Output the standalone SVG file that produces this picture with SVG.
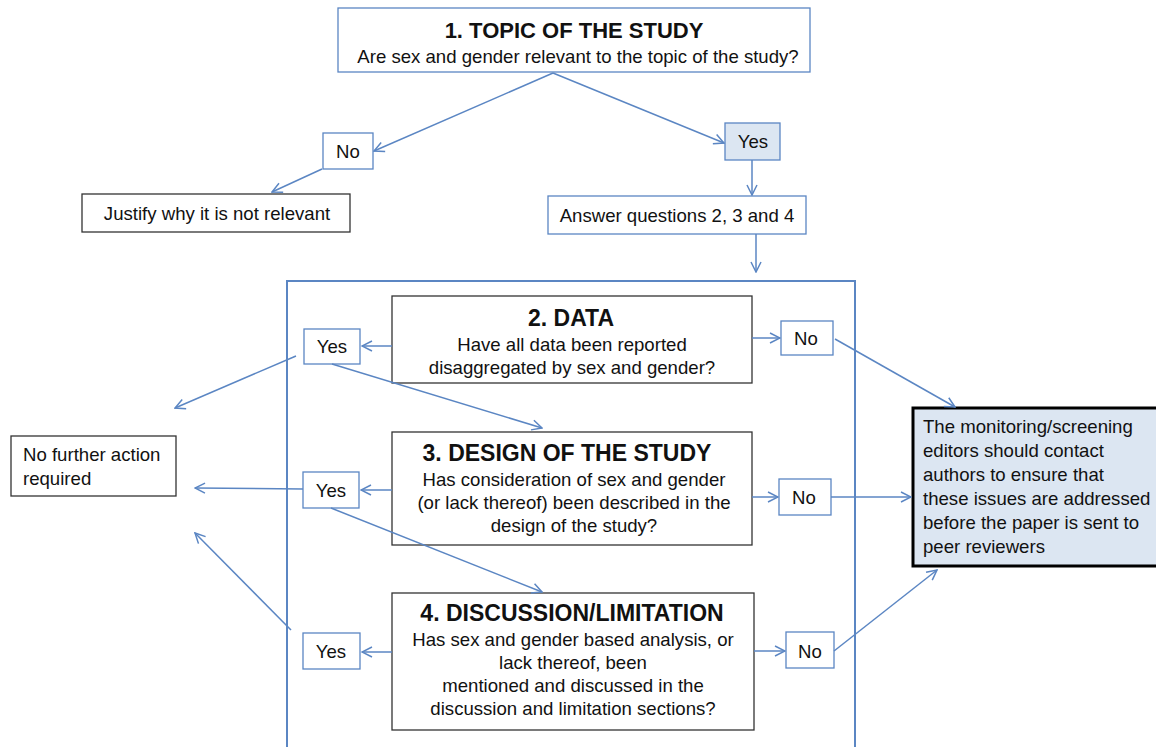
<svg xmlns="http://www.w3.org/2000/svg" width="1156" height="747" viewBox="0 0 1156 747">
<style>
text{font-family:"Liberation Sans",Arial,sans-serif;fill:#111;}
.t{font-size:18.6px;}
.c{text-anchor:middle;}
.h{font-size:23px;font-weight:bold;text-anchor:middle;}
.bb{fill:#fff;stroke:#5b86c3;stroke-width:1.3;}
.by{fill:#dce6f2;stroke:#5b86c3;stroke-width:1.3;}
.kb{fill:#fff;stroke:#333;stroke-width:1.3;}
.con line,.con polyline{stroke:#5b86c3;stroke-width:1.5;fill:none;marker-end:url(#a);}
</style>
<defs>
<marker id="a" viewBox="0 0 12 12" refX="11" refY="6" markerWidth="12" markerHeight="12" markerUnits="userSpaceOnUse" orient="auto">
<path d="M1,1 L11,6 L1,11" fill="none" stroke="#5b86c3" stroke-width="1.5"/>
</marker>
</defs>
<rect width="1156" height="747" fill="#fff"/>
<g id="container"><rect x="287" y="281" width="568" height="480" fill="none" stroke="#5b86c3" stroke-width="2"/></g>
<g id="n1"><rect class="bb" x="338" y="8" width="472" height="64"/>
<text class="h" x="574" y="38" style="font-size:22px">1. TOPIC OF THE STUDY</text>
<text class="t c" x="578" y="63">Are sex and gender relevant to the topic of the study?</text></g>
<g id="no1"><rect class="bb" x="323" y="133" width="50" height="36"/><text class="t c" x="348" y="158">No</text></g>
<g id="yes1"><rect class="by" x="725" y="123" width="55" height="37"/><text class="t c" x="753" y="148">Yes</text></g>
<g id="justify"><rect class="kb" x="82" y="194" width="268" height="38"/><text class="t c" x="217" y="220">Justify why it is not relevant</text></g>
<g id="answer"><rect class="bb" x="548" y="196" width="258" height="38"/><text class="t c" x="677" y="222">Answer questions 2, 3 and 4</text></g>
<g id="n2"><rect class="kb" x="392" y="296" width="360" height="87"/>
<text class="h" x="571" y="326">2. DATA</text>
<text class="t c" x="572" y="351">Have all data been reported</text>
<text class="t c" x="572" y="374">disaggregated by sex and gender?</text></g>
<g id="n3"><rect class="kb" x="392" y="432" width="360" height="113"/>
<text class="h" x="567" y="461">3. DESIGN OF THE STUDY</text>
<text class="t c" x="574" y="486">Has consideration of sex and gender</text>
<text class="t c" x="574" y="509">(or lack thereof) been described in the</text>
<text class="t c" x="574" y="532">design of the study?</text></g>
<g id="n4"><rect class="kb" x="392" y="593" width="362" height="137"/>
<text class="h" x="572" y="621">4. DISCUSSION/LIMITATION</text>
<text class="t c" x="573" y="646">Has sex and gender based analysis, or</text>
<text class="t c" x="573" y="669">lack thereof, been</text>
<text class="t c" x="573" y="692">mentioned and discussed in the</text>
<text class="t c" x="573" y="715">discussion and limitation sections?</text></g>
<g id="yes2"><rect class="bb" x="304" y="329" width="56" height="35"/><text class="t c" x="332" y="353">Yes</text></g>
<g id="yes3"><rect class="bb" x="303" y="472" width="56" height="36"/><text class="t c" x="331" y="497">Yes</text></g>
<g id="yes4"><rect class="bb" x="303" y="633" width="57" height="36"/><text class="t c" x="331" y="658">Yes</text></g>
<g id="no2"><rect class="bb" x="781" y="321" width="52" height="34"/><text class="t c" x="806" y="345">No</text></g>
<g id="no3"><rect class="bb" x="779" y="479" width="52" height="36"/><text class="t c" x="804" y="504">No</text></g>
<g id="no4"><rect class="bb" x="786" y="632" width="48" height="36"/><text class="t c" x="810" y="658">No</text></g>
<g id="nofurther"><rect class="kb" x="11" y="436" width="165" height="60"/>
<text class="t" x="23" y="461">No further action</text>
<text class="t" x="23" y="485">required</text></g>
<g id="monitor"><rect x="913" y="408" width="245" height="158" fill="#dce6f2" stroke="#000" stroke-width="3"/>
<text class="t" x="923" y="433">The monitoring/screening</text>
<text class="t" x="923" y="457">editors should contact</text>
<text class="t" x="923" y="481">authors to ensure that</text>
<text class="t" x="923" y="505">these issues are addressed</text>
<text class="t" x="923" y="529">before the paper is sent to</text>
<text class="t" x="923" y="553">peer reviewers</text></g>
<g class="con" id="connectors">
<line x1="553" y1="73" x2="374" y2="151"/>
<line x1="553" y1="73" x2="724" y2="143"/>
<line x1="322" y1="169" x2="272" y2="192"/>
<line x1="752" y1="160" x2="752" y2="195"/>
<line x1="756" y1="234" x2="756" y2="272"/>
<line x1="392" y1="346" x2="362" y2="346"/>
<line x1="752" y1="338" x2="780" y2="338"/>
<line x1="835" y1="339" x2="955" y2="407"/>
<line x1="296" y1="356" x2="175" y2="408"/>
<line x1="332" y1="364" x2="542" y2="428"/>
<line x1="392" y1="490" x2="361" y2="490"/>
<line x1="303" y1="489" x2="195" y2="488"/>
<line x1="752" y1="497" x2="778" y2="497"/>
<line x1="831" y1="497" x2="911" y2="497"/>
<line x1="331" y1="508" x2="542" y2="592"/>
<line x1="392" y1="652" x2="362" y2="652"/>
<line x1="291" y1="630" x2="195" y2="533"/>
<line x1="754" y1="651" x2="785" y2="651"/>
<line x1="834" y1="651" x2="937" y2="570"/>
</g>
</svg>
